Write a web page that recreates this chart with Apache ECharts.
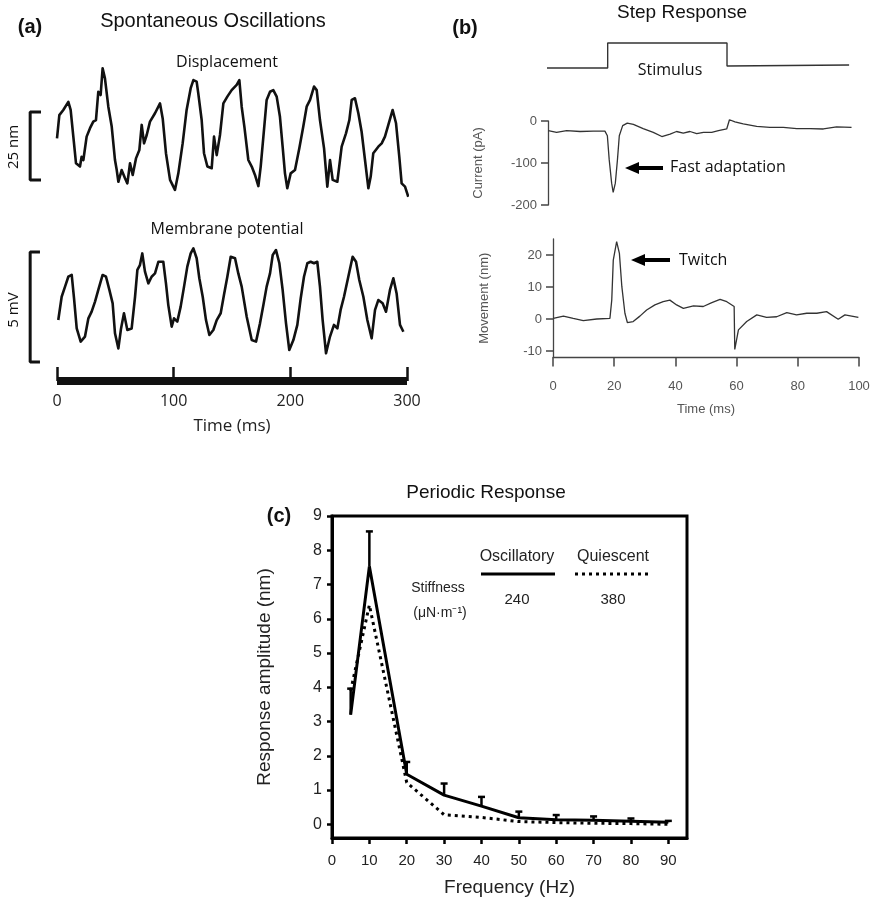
<!DOCTYPE html>
<html><head><meta charset="utf-8">
<script src="https://cdn.jsdelivr.net/npm/echarts@6/dist/echarts.min.js"></script>
<style>html,body{margin:0;padding:0;background:#fff}#c{width:877px;height:900px}</style>
</head><body><div id="c"></div>
<script>
// ---------- Panel (a): spontaneous oscillations ----------
const dispTime = [0,2,5.4,9.7,11.7,14,16.3,19.7,21.1,22.6,25.4,28.3,31.1,33.4,35.4,37.4,39.1,41.1,44,46.9,49.7,51.2,52.6,55.4,58.3,60.3,62.6,64.9,67.7,70.6,72.6,74.6,76.9,79.7,84,88.3,90.6,93.4,96.9,101.1,104,107.7,111.1,114.6,116.9,119.7,121.1,124,126,128.9,132.6,134.6,136.9,139.7,142.6,146,149.7,154,156.3,158.3,160.6,164,166.9,169.7,172.6,174.6,176.9,179.7,182.6,185.4,188.3,191.1,193.4,195.4,197.4,200.3,204,207.7,211.1,214,216.9,220.3,222.6,225.4,228.9,231.7,234,236.3,240.3,244,247.7,250.6,252.6,255.4,258.3,261.1,264,266.9,268.9,271.1,275.4,278.3,281.1,284,287.7,290.6,293.4,295.4,298.3,301.1];
const dispNm = [22.7,31.2,33.1,36.1,33.1,23.3,13.5,12.3,15.9,14.7,23.3,26.4,28.8,29.4,39.8,38.6,48.4,44.7,34.3,27,14.7,11,6.7,11,8,6.1,13.5,9.2,15.3,18.4,27.6,20.8,23.9,28.8,31.9,35.5,30,17.2,7.4,3.7,9.8,20.8,33.1,41.1,44.1,43.5,39.2,29.4,17.2,12.3,11.7,23.3,16.5,23.9,35.5,38,40.4,42.3,44.1,34.3,27,14.7,12.3,9.2,5.1,12.3,23.3,36.8,39.8,40.4,38,30.6,19.6,9.8,4.3,9.8,11,19,27,34.3,36.8,41.7,40.4,29.4,19,4.9,14.7,7.4,6.7,19.6,24.5,29.4,36.8,37.4,31.9,25.1,14.7,4.3,8.6,17.2,19.6,20.8,23.3,27.6,33.1,28.2,15.9,6.1,4.9,1.2];
const memTime = [1.1,4,6.9,9.7,12.6,14.6,16.9,20.3,24,26.9,29.7,32.6,35.4,39.1,42,44.9,47.7,49.7,52.6,54.9,57.4,60.3,64,66.9,68.9,71.1,73.1,75.4,78.3,81.1,84,86.9,91.1,93.4,95.4,98.3,100.3,103.1,106,108.9,111.7,114.6,116.9,119.7,122,124.9,127.7,130.6,134,136.9,140.3,143.1,146,148.9,152.6,155.4,158.3,162.6,166.9,170.6,174,176.9,179.7,182.6,184.9,187.7,190.6,193.4,196.3,199.1,202.6,206,208.9,211.7,214.6,217.4,220.3,223.1,225.4,227.7,230.6,234,237.4,240.3,243.1,246,249.7,253.4,256.3,259.1,262.6,266,269.7,272.6,275.4,279.1,282,285.4,288.3,291.1,294,296.9];
const memMv = [2.27,3.33,3.79,4.24,4.32,3.26,1.89,1.29,1.52,2.35,2.65,3.11,3.64,4.32,4.24,3.64,3.03,1.67,0.98,1.89,2.58,1.82,1.89,3.33,4.55,4.77,5.3,4.47,3.94,4.24,4.39,4.92,4.92,3.94,2.95,1.97,2.35,2.2,2.88,3.79,4.7,5.3,5.53,5.08,4.17,3.33,2.27,1.59,1.82,2.27,2.58,3.41,4.24,5.15,5.08,4.39,3.79,2.42,1.36,1.29,2.12,2.95,3.79,4.39,5.23,5.45,4.85,3.64,2.12,0.91,1.36,2.05,3.26,4.24,4.85,4.92,4.85,4.92,3.79,2.27,0.76,1.52,2.05,1.89,2.73,3.33,4.24,5.15,4.92,4.09,3.33,2.27,1.44,2.73,3.18,3.03,2.65,3.64,4.17,3.48,2.05,1.74];
const timeTicksA = [0,100,200,300];
const dispScaleNm = 25;   // scale bar
const memScaleMv = 5;     // scale bar

// ---------- Panel (b): step response ----------
const stimTime = [-0.7,19.5,19.5,58.5,58.5,98.4];
const stimLevel = [0,0,1,1,0.08,0.12];
const curTime = [0.1,2.8,6.1,10.5,14.8,18.6,19.4,20,20.8,21.3,22,22.7,23.3,24.4,25.9,27.9,31.1,34.4,37.2,39.9,42,44.2,46.4,48.6,50.8,53.5,55.7,58.4,59.3,61.1,63.8,68.2,72.5,76.9,81.3,85.6,90,94.3,99.2];
const curPa = [-23,-27,-23,-25,-24,-24,-35,-92,-148,-170,-148,-92,-35,-11,-5,-8,-18,-27,-37,-31,-25,-29,-25,-30,-27,-27,-23,-19,3,-2,-7,-13,-15,-15,-18,-18,-19,-14,-15];
const movTime = [0.1,3.4,6.6,9.9,14.3,18.6,19.2,19.7,20.8,21.7,22.5,23.5,24.3,26.2,28.4,30.6,33.3,36,38.2,40.4,42.6,45.9,49.1,51.9,54.6,56.8,59.2,59.4,60.6,63.3,66.6,69.8,73.1,76.4,79.6,82.9,86.2,89.4,93.2,95.4,99.8];
const movNm = [0.2,0.9,0.2,-0.5,0,0.2,5.9,18.4,24.2,20.5,10.1,1.8,-1.1,-0.8,0.9,2.8,4.4,5.4,5.9,4.4,3.3,4.1,3.9,5.1,6.1,5.4,3.9,-9.5,-3.4,-0.8,1.3,0.5,0.7,2,1.3,1.8,1.8,2.3,-0.1,1.3,0.5];
const curTicks = [-200,-100,0];
const movTicks = [-10,0,10,20];
const timeTicksB = [0,20,40,60,80,100];

// ---------- Panel (c): periodic response ----------
const freqHz = [5,10,20,30,40,50,60,70,80,90];
const oscAmp = [3.2,7.53,1.46,0.85,0.53,0.19,0.13,0.12,0.09,0.06];
const oscErrTop = [3.96,8.55,1.82,1.19,0.8,0.37,0.27,0.23,0.17,0.1];
const quiAmp = [3.9,6.4,1.22,0.28,0.2,0.08,0.05,0.03,0.02,0];
const freqTicks = [0,10,20,30,40,50,60,70,80,90];
const ampTicks = [0,1,2,3,4,5,6,7,8,9];

const zip = (a,b)=>a.map((v,i)=>[v,b[i]]);
const ARIAL = '"Liberation Sans", Arial, sans-serif';
const MYR = '"Open Sans", "Noto Sans", sans-serif';

const gridBase = {outerBoundsMode:'none', containLabel:false};

const option = {
  animation:false,
  backgroundColor:'#fff',
  grid:[
    Object.assign({left:22, width:385, top:60, height:140}, gridBase),     // 0 displacement
    Object.assign({left:22, width:385, top:235, height:135}, gridBase),    // 1 membrane
    Object.assign({left:57, width:350, top:370, height:11}, gridBase),     // 2 time axis (a)
    Object.assign({left:548, width:306, top:43, height:25}, gridBase),     // 3 stimulus
    Object.assign({left:548, width:306, top:121, height:84}, gridBase),    // 4 current
    Object.assign({left:553, width:306, top:239, height:118.4}, gridBase), // 5 movement
    Object.assign({left:332, width:355, top:516, height:322, show:true, borderColor:'#000', borderWidth:3}, gridBase) // 6 periodic
  ],
  xAxis:[
    {gridIndex:0, type:'value', min:-30, max:300, show:false},
    {gridIndex:1, type:'value', min:-30, max:300, show:false},
    {gridIndex:2, type:'value', min:0, max:300, interval:100,
      axisLine:{show:true, onZero:false, lineStyle:{color:'#111', width:8, cap:'butt'}},
      axisTick:{show:true, inside:true, length:14, lineStyle:{color:'#111', width:2.5}},
      axisLabel:{show:true, margin:12, fontSize:16, fontFamily:MYR, color:'#222'},
      splitLine:{show:false},
      name:'Time (ms)', nameLocation:'middle', nameGap:37, nameTextStyle:{fontSize:17, fontFamily:MYR, color:'#222'}
    },
    {gridIndex:3, type:'value', min:0, max:100, show:false},
    {gridIndex:4, type:'value', min:0, max:100, show:false},
    {gridIndex:5, type:'value', min:0, max:100, interval:20,
      axisLine:{show:true, onZero:false, lineStyle:{color:'#444', width:1.3}},
      axisTick:{show:true, length:9, lineStyle:{color:'#444', width:1.5}},
      axisLabel:{margin:23, fontSize:13, fontFamily:ARIAL, color:'#555'},
      splitLine:{show:false},
      name:'Time (ms)', nameLocation:'middle', nameGap:46, nameTextStyle:{fontSize:13, fontFamily:ARIAL, color:'#555'}
    },
    {gridIndex:6, type:'value', min:0, max:95,
      axisLine:{show:true, onZero:false, lineStyle:{color:'#000', width:3}},
      axisTick:{show:true, length:6, lineStyle:{color:'#000', width:2.5}, customValues:freqTicks},
      axisLabel:{margin:15, fontSize:15, fontFamily:ARIAL, color:'#222', customValues:freqTicks},
      splitLine:{show:false},
      name:'Frequency (Hz)', nameLocation:'middle', nameGap:40, nameTextStyle:{fontSize:19, fontFamily:ARIAL, color:'#222'}
    }
  ],
  yAxis:[
    {gridIndex:0, type:'value', min:0, max:140/2.72, show:false},
    {gridIndex:1, type:'value', min:0, max:135/22, show:false},
    {gridIndex:2, type:'value', min:0, max:1, show:false},
    {gridIndex:3, type:'value', min:0, max:1, show:false},
    {gridIndex:4, type:'value', min:-200, max:0, interval:100,
      axisLine:{show:true, lineStyle:{color:'#444', width:1.3}},
      axisTick:{show:true, length:7, lineStyle:{color:'#444', width:1.5}},
      axisLabel:{margin:11, fontSize:13, fontFamily:ARIAL, color:'#555'},
      splitLine:{show:false},
      name:'Current (pA)', nameLocation:'middle', nameGap:63, nameTextStyle:{fontSize:13, fontFamily:ARIAL, color:'#555'}
    },
    {gridIndex:5, type:'value', min:-12, max:25,
      axisLine:{show:true, onZero:false, lineStyle:{color:'#444', width:1.3}},
      axisTick:{show:true, length:7, lineStyle:{color:'#444', width:1.5}, customValues:movTicks},
      axisLabel:{margin:11, fontSize:13, fontFamily:ARIAL, color:'#555', customValues:movTicks},
      splitLine:{show:false},
      name:'Movement (nm)', nameLocation:'middle', nameGap:62, nameTextStyle:{fontSize:13, fontFamily:ARIAL, color:'#555'}
    },
    {gridIndex:6, type:'value', min:-0.4, max:9,
      axisLine:{show:true, onZero:false, lineStyle:{color:'#000', width:3}},
      axisTick:{show:true, length:5, lineStyle:{color:'#000', width:2.5}, customValues:ampTicks},
      axisLabel:{margin:10, fontSize:16, fontFamily:ARIAL, color:'#222', customValues:ampTicks},
      splitLine:{show:false},
      name:'Response amplitude (nm)', nameLocation:'middle', nameGap:58, nameTextStyle:{fontSize:19, fontFamily:ARIAL, color:'#222'}
    }
  ],
  series:[
    {type:'line', xAxisIndex:0, yAxisIndex:0, data:zip(dispTime, dispNm), showSymbol:false, clip:false,
      lineStyle:{color:'#111', width:2.6, join:'round'}},
    {type:'line', xAxisIndex:0, yAxisIndex:0, clip:false, showSymbol:false,
      data:[[-13.7,7.35],[-23,7.35],[-23,7.35+dispScaleNm],[-13.7,7.35+dispScaleNm]],
      lineStyle:{color:'#111', width:3}},
    {type:'line', xAxisIndex:1, yAxisIndex:1, data:zip(memTime, memMv), showSymbol:false, clip:false,
      lineStyle:{color:'#111', width:2.6, join:'round'}},
    {type:'line', xAxisIndex:1, yAxisIndex:1, clip:false, showSymbol:false,
      data:[[-14.6,0.36],[-23,0.36],[-23,0.36+memScaleMv],[-14.6,0.36+memScaleMv]],
      lineStyle:{color:'#111', width:3}},
    {type:'line', xAxisIndex:3, yAxisIndex:3, data:zip(stimTime, stimLevel), showSymbol:false, clip:false,
      lineStyle:{color:'#333', width:1.4}},
    {type:'line', xAxisIndex:4, yAxisIndex:4, data:zip(curTime, curPa), showSymbol:false, clip:false,
      lineStyle:{color:'#333', width:1.3}},
    {type:'line', xAxisIndex:5, yAxisIndex:5, data:zip(movTime, movNm), showSymbol:false, clip:false,
      lineStyle:{color:'#333', width:1.3}},
    {type:'line', name:'Quiescent', xAxisIndex:6, yAxisIndex:6, data:zip(freqHz, quiAmp), showSymbol:false,
      lineStyle:{color:'#000', width:3, type:[3,4], cap:'butt'}},
    {type:'line', name:'Oscillatory', xAxisIndex:6, yAxisIndex:6, data:zip(freqHz, oscAmp), showSymbol:false,
      lineStyle:{color:'#000', width:3}},
    {type:'custom', xAxisIndex:6, yAxisIndex:6,
      data:freqHz.map((f,i)=>[f, oscAmp[i], oscErrTop[i]]),
      renderItem:function(params, api){
        const p0 = api.coord([api.value(0), api.value(1)]);
        const p1 = api.coord([api.value(0), api.value(2)]);
        return {type:'group', children:[
          {type:'line', shape:{x1:p0[0], y1:p0[1], x2:p1[0], y2:p1[1]}, style:{stroke:'#000', lineWidth:2.5}},
          {type:'line', shape:{x1:p1[0]-3.5, y1:p1[1], x2:p1[0]+3.5, y2:p1[1]}, style:{stroke:'#000', lineWidth:2.5}}
        ]};
      }
    }
  ],
  graphic:[
    // panel a
    {type:'text', x:30, y:27, style:{text:'(a)', font:'bold 20px '+ARIAL, fill:'#111', textAlign:'center', textVerticalAlign:'middle'}},
    {type:'text', x:213, y:21, style:{text:'Spontaneous Oscillations', font:'20px '+ARIAL, fill:'#111', textAlign:'center', textVerticalAlign:'middle'}},
    {type:'text', x:227, y:62, style:{text:'Displacement', font:'16px '+MYR, fill:'#111', textAlign:'center', textVerticalAlign:'middle'}},
    {type:'text', x:227, y:229, style:{text:'Membrane potential', font:'16px '+MYR, fill:'#111', textAlign:'center', textVerticalAlign:'middle'}},
    {type:'text', x:14, y:147, rotation:Math.PI/2, style:{text:'25 nm', font:'15px '+MYR, fill:'#111', textAlign:'center', textVerticalAlign:'middle'}},
    {type:'text', x:14, y:310, rotation:Math.PI/2, style:{text:'5 mV', font:'15px '+MYR, fill:'#111', textAlign:'center', textVerticalAlign:'middle'}},
    // panel b
    {type:'text', x:465, y:28, style:{text:'(b)', font:'bold 20px '+ARIAL, fill:'#111', textAlign:'center', textVerticalAlign:'middle'}},
    {type:'text', x:682, y:13, style:{text:'Step Response', font:'19px '+ARIAL, fill:'#111', textAlign:'center', textVerticalAlign:'middle'}},
    {type:'text', x:670, y:70, style:{text:'Stimulus', font:'16px '+MYR, fill:'#111', textAlign:'center', textVerticalAlign:'middle'}},
    {type:'text', x:670, y:167, style:{text:'Fast adaptation', font:'16px '+MYR, fill:'#111', textAlign:'left', textVerticalAlign:'middle'}},
    {type:'text', x:679, y:260, style:{text:'Twitch', font:'16px '+MYR, fill:'#111', textAlign:'left', textVerticalAlign:'middle'}},
    {type:'line', shape:{x1:636, y1:168, x2:663, y2:168}, style:{stroke:'#000', lineWidth:4}},
    {type:'polygon', shape:{points:[[625,168],[639,162],[639,174]]}, style:{fill:'#000'}},
    {type:'line', shape:{x1:642, y1:260, x2:670, y2:260}, style:{stroke:'#000', lineWidth:4}},
    {type:'polygon', shape:{points:[[631,260],[645,254],[645,266]]}, style:{fill:'#000'}},
    // panel c
    {type:'text', x:279, y:516, style:{text:'(c)', font:'bold 20px '+ARIAL, fill:'#111', textAlign:'center', textVerticalAlign:'middle'}},
    {type:'text', x:486, y:493, style:{text:'Periodic Response', font:'19px '+ARIAL, fill:'#111', textAlign:'center', textVerticalAlign:'middle'}},
    {type:'text', x:517, y:557, style:{text:'Oscillatory', font:'16px '+ARIAL, fill:'#222', textAlign:'center', textVerticalAlign:'middle'}},
    {type:'text', x:613, y:557, style:{text:'Quiescent', font:'16px '+ARIAL, fill:'#222', textAlign:'center', textVerticalAlign:'middle'}},
    {type:'line', shape:{x1:481, y1:574, x2:555, y2:574}, style:{stroke:'#000', lineWidth:3}},
    {type:'line', shape:{x1:575, y1:574, x2:650, y2:574}, style:{stroke:'#000', lineWidth:3, lineDash:[3,4]}},
    {type:'text', x:438, y:588, style:{text:'Stiffness', font:'14px '+ARIAL, fill:'#222', textAlign:'center', textVerticalAlign:'middle'}},
    {type:'text', x:440, y:613, style:{text:'(μN·m\u207B\u00B9)', font:'14px '+ARIAL, fill:'#222', textAlign:'center', textVerticalAlign:'middle'}},
    {type:'text', x:517, y:600, style:{text:'240', font:'15px '+ARIAL, fill:'#222', textAlign:'center', textVerticalAlign:'middle'}},
    {type:'text', x:613, y:600, style:{text:'380', font:'15px '+ARIAL, fill:'#222', textAlign:'center', textVerticalAlign:'middle'}}
  ]
};
const chart = echarts.init(document.getElementById('c'), null, {renderer:'canvas'});
chart.setOption(option);
</script></body></html>
